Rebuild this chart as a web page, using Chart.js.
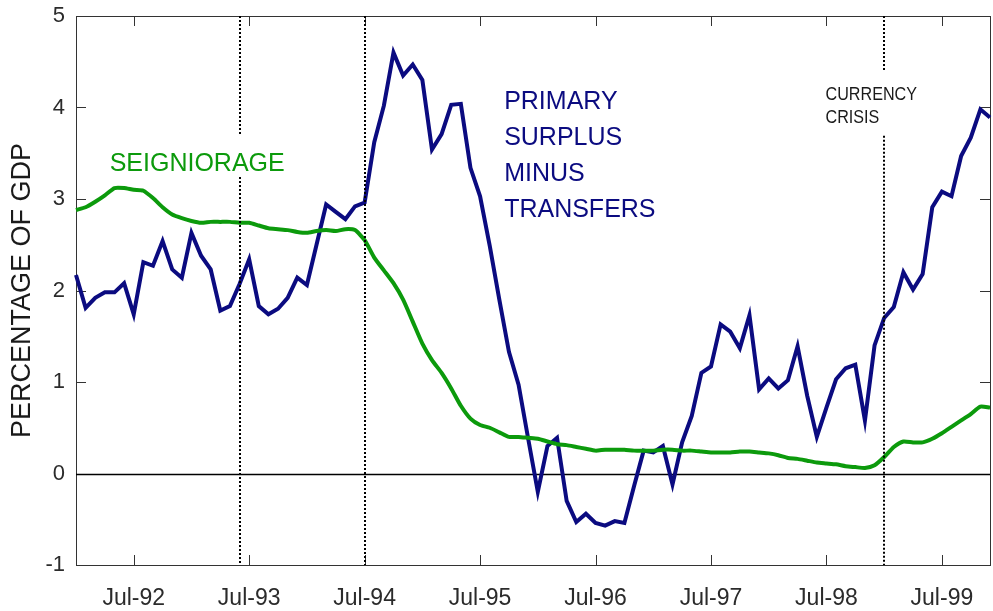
<!DOCTYPE html>
<html>
<head>
<meta charset="utf-8">
<script src="https://cdn.jsdelivr.net/npm/chart.js@4.4.1/dist/chart.umd.min.js"></script>
<style>
  body { margin: 0; background: #fff; }
  canvas { display: block; }
</style>
</head>
<body>
<canvas id="chart" width="993" height="611"></canvas>
<script>
// monthly observations, Jan-92 .. Dec-99
var years = ['92', '93', '94', '95', '96', '97', '98', '99'];
var monthNames = ['Jan', 'Feb', 'Mar', 'Apr', 'May', 'Jun', 'Jul', 'Aug', 'Sep', 'Oct', 'Nov', 'Dec'];
var months = [];
years.forEach(function (y) {
    monthNames.forEach(function (m) { months.push(m + '-' + y); });
});

// primary surplus minus transfers, % of GDP
var primarySurplus = [
    2.17, 1.81, 1.92, 1.98, 1.98, 2.08, 1.74, 2.31, 2.27, 2.54, 2.23, 2.14,
    2.63, 2.38, 2.23, 1.78, 1.83, 2.07, 2.34, 1.83, 1.74, 1.80, 1.92, 2.14,
    2.06, 2.50, 2.94, 2.86, 2.78, 2.92, 2.96, 3.62, 4.02, 4.60, 4.35, 4.47,
    4.30, 3.54, 3.71, 4.03, 4.04, 3.34, 3.03, 2.49, 1.90, 1.33, 0.97, 0.38,
    -0.20, 0.30, 0.39, -0.30, -0.53, -0.44, -0.54, -0.57, -0.52, -0.54, -0.14, 0.25,
    0.23, 0.30, -0.12, 0.34, 0.63, 1.10, 1.17, 1.63, 1.55, 1.37, 1.73, 0.92,
    1.04, 0.93, 1.02, 1.39, 0.85, 0.40, 0.72, 1.03, 1.15, 1.19, 0.58, 1.40,
    1.70, 1.82, 2.20, 2.01, 2.18, 2.91, 3.08, 3.03, 3.47, 3.67, 3.98, 3.89
];

// seigniorage, % of GDP
var seigniorage = [
    2.88, 2.91, 2.97, 3.04, 3.12, 3.12, 3.10, 3.09, 3.01, 2.91, 2.83, 2.79,
    2.76, 2.74, 2.75, 2.75, 2.75, 2.74, 2.74, 2.71, 2.68, 2.67, 2.66, 2.64,
    2.63, 2.65, 2.66, 2.65, 2.67, 2.66, 2.55, 2.36, 2.22, 2.08, 1.90, 1.66,
    1.42, 1.24, 1.10, 0.93, 0.74, 0.60, 0.53, 0.50, 0.45, 0.40, 0.40, 0.39,
    0.38, 0.35, 0.32, 0.31, 0.29, 0.27, 0.25, 0.26, 0.26, 0.26, 0.25, 0.25,
    0.25, 0.26, 0.26, 0.25, 0.25, 0.24, 0.23, 0.23, 0.23, 0.24, 0.24, 0.23,
    0.22, 0.20, 0.17, 0.16, 0.14, 0.12, 0.11, 0.10, 0.08, 0.07, 0.06, 0.09,
    0.18, 0.29, 0.35, 0.34, 0.34, 0.38, 0.44, 0.51, 0.58, 0.65, 0.73, 0.72
];

var yMin = -1;
var yMax = 5;
var tickMonth = 'Jul';

// dotted event lines (gap = value range left open for a label)
var eventMonths = ['Jun-93', 'Jul-94', 'Jan-99'];
var eventGaps = [[3.24, 3.71], null, [3.69, 4.40]];

var BLUE = '#0b0b80';
var GREEN = '#0c9a0c';
var AXIS = '#333333';

// text labels placed in data coordinates (month index, value)
var notes = [
    { lines: ['SEIGNIORAGE'], at: [3.5, 3.31], color: GREEN, size: 25, step: 36, sx: 1 },
    { lines: ['PRIMARY', 'SURPLUS', 'MINUS', 'TRANSFERS'], at: [44.5, 3.98], color: BLUE, size: 25, step: 36, sx: 1 },
    { lines: ['CURRENCY', 'CRISIS'], at: [77.9, 4.08], color: '#1a1a1a', size: 19, step: 23, sx: 0.85 }
];

var framePlugin = {
    id: 'frame',
    beforeDatasetsDraw: function (chart) {
        var ctx = chart.ctx, a = chart.chartArea;
        var xs = chart.scales.x, ys = chart.scales.y;
        ctx.save();
        ctx.strokeStyle = AXIS;
        ctx.lineWidth = 1;
        ctx.strokeRect(Math.round(a.left) + 0.5, Math.round(a.top) + 0.5,
            Math.round(a.right - a.left), Math.round(a.bottom - a.top));
        ctx.beginPath();
        months.forEach(function (m, i) {
            if (m.indexOf(tickMonth) !== 0) return;
            var x = Math.round(xs.getPixelForValue(i)) + 0.5;
            ctx.moveTo(x, a.bottom); ctx.lineTo(x, a.bottom - 10);
            ctx.moveTo(x, a.top); ctx.lineTo(x, a.top + 10);
        });
        for (var v = yMin; v <= yMax; v++) {
            var y = Math.round(ys.getPixelForValue(v)) + 0.5;
            ctx.moveTo(a.left, y); ctx.lineTo(a.left + 10, y);
            ctx.moveTo(a.right, y); ctx.lineTo(a.right - 10, y);
        }
        ctx.stroke();
        // zero line
        var y0 = Math.round(ys.getPixelForValue(0)) + 0.5;
        ctx.strokeStyle = '#000';
        ctx.lineWidth = 1.5;
        ctx.beginPath();
        ctx.moveTo(a.left, y0); ctx.lineTo(a.right, y0);
        ctx.stroke();
        ctx.restore();
    },
    afterDatasetsDraw: function (chart) {
        var ctx = chart.ctx, a = chart.chartArea;
        var xs = chart.scales.x, ys = chart.scales.y;
        ctx.save();
        ctx.strokeStyle = '#000';
        ctx.lineWidth = 2;
        ctx.setLineDash([2, 2]);
        eventMonths.forEach(function (m, k) {
            var x = Math.round(xs.getPixelForValue(months.indexOf(m)));
            var gap = eventGaps[k];
            ctx.beginPath();
            if (gap) {
                ctx.moveTo(x, a.top); ctx.lineTo(x, ys.getPixelForValue(gap[1]));
                ctx.moveTo(x, ys.getPixelForValue(gap[0])); ctx.lineTo(x, a.bottom);
            } else {
                ctx.moveTo(x, a.top); ctx.lineTo(x, a.bottom);
            }
            ctx.stroke();
        });
        ctx.setLineDash([]);
        notes.forEach(function (n) {
            var x = xs.getPixelForValue(n.at[0]);
            var y = ys.getPixelForValue(n.at[1]);
            ctx.font = n.size + 'px "Liberation Sans", Arial, sans-serif';
            ctx.fillStyle = n.color;
            ctx.textAlign = 'left';
            ctx.textBaseline = 'alphabetic';
            n.lines.forEach(function (t, j) {
                ctx.save();
                ctx.translate(x, y + j * n.step);
                ctx.scale(n.sx, 1);
                ctx.fillText(t, 0, 0);
                ctx.restore();
            });
        });
        ctx.restore();
    }
};

var ctx = document.getElementById('chart').getContext('2d');
var chart = new Chart(ctx, {
    type: 'line',
    data: {
        labels: months,
        datasets: [
            {
                label: 'Seigniorage',
                data: seigniorage,
                borderColor: GREEN,
                borderWidth: 4,
                pointRadius: 0,
                tension: 0.2,
                fill: false
            },
            {
                label: 'Primary surplus minus transfers',
                data: primarySurplus,
                borderColor: BLUE,
                borderWidth: 4,
                pointRadius: 0,
                tension: 0,
                fill: false
            }
        ]
    },
    options: {
        responsive: false,
        animation: false,
        layout: { padding: { top: 16, right: 3, left: 0, bottom: 0 } },
        plugins: {
            legend: { display: false },
            tooltip: { enabled: false }
        },
        scales: {
            x: {
                type: 'category',
                offset: false,
                grid: { display: false, drawTicks: false },
                border: { display: false },
                afterFit: function (s) {
                    s.height = 46;
                    s.paddingLeft = 0;
                    s.paddingRight = 0;
                },
                ticks: {
                    autoSkip: false,
                    maxRotation: 0,
                    minRotation: 0,
                    padding: 20,
                    color: '#2b2b2b',
                    font: { family: '"Liberation Sans", Arial, sans-serif', size: 23 },
                    callback: function (v, i) {
                        var l = months[i];
                        return l.indexOf(tickMonth) === 0 ? l : '';
                    }
                }
            },
            y: {
                min: yMin,
                max: yMax,
                grid: { display: false, drawTicks: false },
                border: { display: false },
                afterFit: function (s) {
                    s.width = 76;
                    s.paddingTop = 0;
                    s.paddingBottom = 0;
                },
                ticks: {
                    stepSize: 1,
                    padding: 11,
                    color: '#2b2b2b',
                    font: { family: '"Liberation Sans", Arial, sans-serif', size: 22 }
                },
                title: {
                    display: true,
                    text: 'PERCENTAGE OF GDP',
                    color: '#1a1a1a',
                    padding: { top: 6, bottom: 0 },
                    font: { family: '"Liberation Sans", Arial, sans-serif', size: 27 }
                }
            }
        }
    },
    plugins: [framePlugin]
});
</script>
</body>
</html>
